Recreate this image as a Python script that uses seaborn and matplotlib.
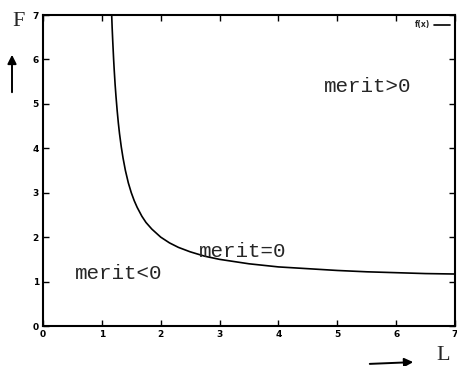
import numpy as np
import matplotlib
matplotlib.use("Agg")
import matplotlib.pyplot as plt
import seaborn as sns

# points
L = [1.167, 1.175, 1.185, 1.2, 1.21, 1.225, 1.24, 1.26, 1.28, 1.3, 1.33, 1.36, 1.4,
     1.45, 1.5, 1.55, 1.6, 1.68, 1.75, 1.85, 2.0, 2.15, 2.3, 2.5, 2.75, 3.0,
     3.5, 4.0, 4.5, 5.0, 5.5, 6.0, 6.5, 7.0]
F = [7.0, 6.71, 6.41, 6.0, 5.76, 5.44, 5.17, 4.85, 4.57, 4.33, 4.03, 3.78, 3.5,
     3.22, 3.0, 2.82, 2.67, 2.47, 2.33, 2.18, 2.0, 1.87, 1.77, 1.67, 1.57, 1.5,
     1.4, 1.33, 1.29, 1.25, 1.22, 1.2, 1.18, 1.17]
regions = ["merit<0", "merit=0", "merit>0"]
region_x = [0.54, 2.65, 4.78]
region_y = [1.19, 1.67, 5.4]
ticks = [0, 1, 2, 3, 4, 5, 6, 7]

sns.set_style("ticks")
fig = plt.figure(figsize=(4.57, 3.66), dpi=100)
ax = fig.add_axes([43/457, 1-326/366, 412/457, 311/366])

sns.lineplot(x=L, y=F, ax=ax, color="black", linewidth=1.2, label="f(x)",
             estimator=None, sort=False)

ax.set_xlim(0, 7)
ax.set_ylim(0, 7)
ax.set_xticks(ticks)
ax.set_yticks(ticks)
ax.tick_params(direction="in", length=4, width=1, top=True, right=True,
               labelsize=6.5, pad=3, colors="black")
for lab in ax.get_xticklabels() + ax.get_yticklabels():
    lab.set_fontweight("bold")
for sp in ax.spines.values():
    sp.set_linewidth(1.5)
    sp.set_color("black")
ax.set_xlabel("")
ax.set_ylabel("")

for t, x, y in zip(regions, region_x, region_y):
    ax.text(x, y, t, fontsize=15, family="Liberation Mono", va="center", ha="left")

leg = ax.legend(loc="upper right", frameon=False, markerfirst=False,
                handlelength=2.0, handletextpad=0.5, fontsize=5.5, borderaxespad=0.3)
for t in leg.get_texts():
    t.set_fontweight("bold")

# axis labels with arrows
fig.text(19/457, 1-22/366, "F", fontsize=16, family="Liberation Serif",
         ha="center", va="center")
fig.text(443/457, 1-356/366, "L", fontsize=16, family="Liberation Serif",
         ha="center", va="center")
fig.add_artist(matplotlib.patches.FancyArrowPatch(
    (12/457, 1-95/366), (12/457, 1-52/366), transform=fig.transFigure,
    arrowstyle="-|>", mutation_scale=13, color="black", linewidth=1.4))
fig.add_artist(matplotlib.patches.FancyArrowPatch(
    (367/457, 1-364/366), (416/457, 1-362/366), transform=fig.transFigure,
    arrowstyle="-|>", mutation_scale=13, color="black", linewidth=1.4))

fig.savefig("out.png", dpi=100)
